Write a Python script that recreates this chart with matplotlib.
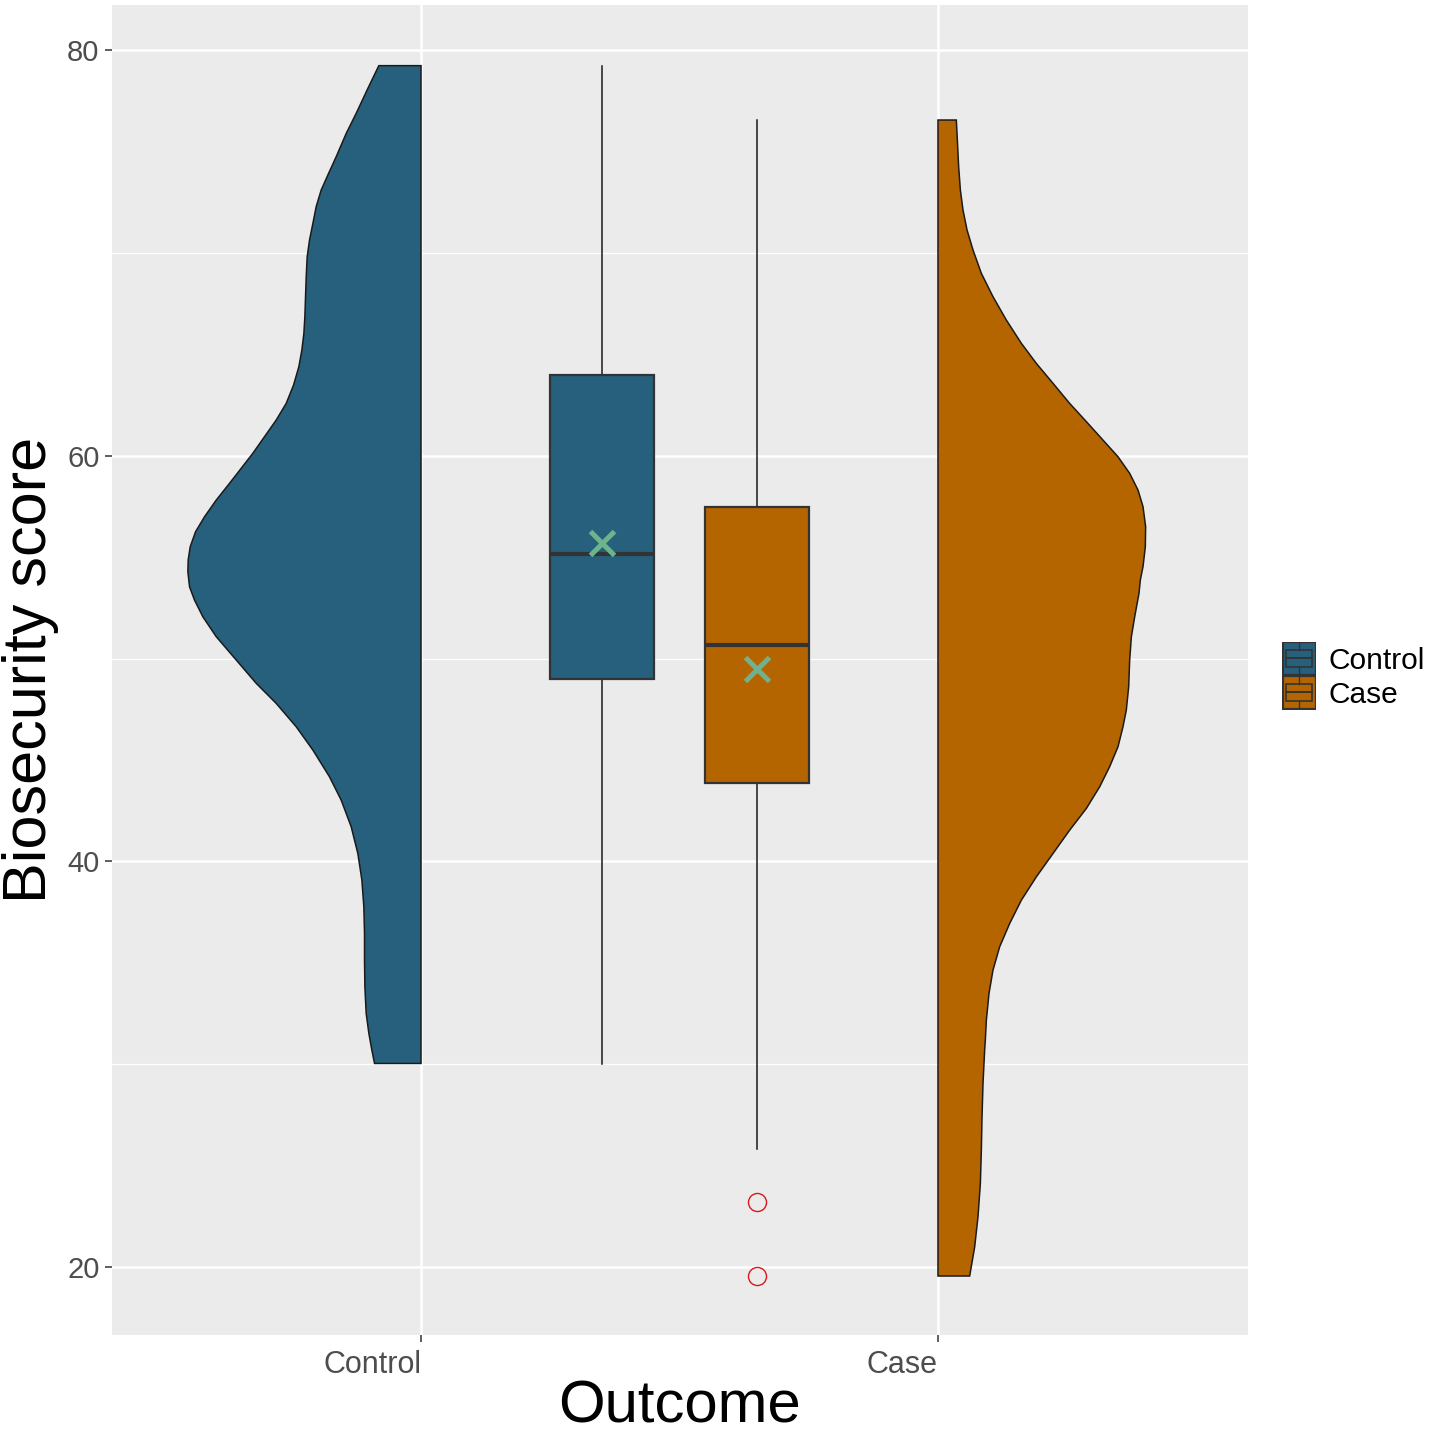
import numpy as np
import matplotlib
matplotlib.use("Agg")
import matplotlib.pyplot as plt
from matplotlib.patches import Rectangle

plt.rcParams['font.family'] = ['Liberation Sans', 'DejaVu Sans']

groups = ["Control", "Case"]
colors = ["#26607D", "#B56500"]

# half violin outlines: score, half width (in x units)
ctrl_score = [79.23, 78.11, 76.88, 75.89, 74.74, 73.84, 73.10, 72.28, 71.45,
              70.63, 69.81, 68.82, 67.84, 66.85, 66.03, 65.21, 64.39, 63.48,
              62.58, 61.76, 60.94, 60.12, 59.38, 58.64, 57.81, 56.99, 56.25,
              55.51, 54.86, 54.28, 53.54, 52.88, 52.06, 51.08, 49.93, 48.78,
              47.79, 46.64, 45.49, 44.17, 43.02, 41.71, 40.39, 39.08, 37.76,
              36.45, 35.14, 33.82, 32.51, 31.52, 30.70, 30.04]
ctrl_width = [0.0816, 0.1028, 0.1254, 0.1447, 0.1641, 0.1802, 0.1931, 0.2028,
              0.2092, 0.2157, 0.2202, 0.2221, 0.2234, 0.2247, 0.2266, 0.2305,
              0.2363, 0.2466, 0.2608, 0.2801, 0.3027, 0.3253, 0.3478, 0.3704,
              0.3962, 0.4188, 0.4362, 0.4465, 0.4504, 0.4510, 0.4478, 0.4381,
              0.4220, 0.3962, 0.3575, 0.3188, 0.2801, 0.2415, 0.2092, 0.1770,
              0.1544, 0.1351, 0.1222, 0.1144, 0.1106, 0.1093, 0.1093, 0.1086,
              0.1061, 0.1009, 0.0951, 0.0899]

case_score = [76.55, 75.56, 74.25, 73.10, 72.11, 71.13, 70.14, 68.99, 67.84,
              66.69, 65.54, 64.55, 63.57, 62.58, 61.68, 60.77, 59.95, 59.13,
              58.31, 57.49, 56.50, 55.51, 54.53, 53.87, 53.21, 52.06, 51.08,
              49.93, 48.61, 47.46, 46.64, 45.65, 44.67, 43.68, 42.61, 41.54,
              40.39, 39.24, 38.09, 36.94, 35.79, 34.64, 33.49, 32.18, 31.19,
              30.70, 29.06, 27.41, 25.77, 24.13, 22.48, 21.00, 19.56]
case_width = [0.0355, 0.0375, 0.0400, 0.0433, 0.0484, 0.0562, 0.0678, 0.0839,
              0.1064, 0.1322, 0.1613, 0.1903, 0.2225, 0.2547, 0.2870, 0.3192,
              0.3482, 0.3708, 0.3869, 0.3966, 0.4017, 0.4011, 0.3966, 0.3914,
              0.3888, 0.3805, 0.3741, 0.3708, 0.3689, 0.3643, 0.3579, 0.3482,
              0.3321, 0.3128, 0.2870, 0.2547, 0.2225, 0.1903, 0.1613, 0.1387,
              0.1193, 0.1064, 0.0987, 0.0936, 0.0916, 0.0903, 0.0871, 0.0852,
              0.0839, 0.0820, 0.0774, 0.0710, 0.0613]

# boxplot summaries
q1 = [49.0, 43.85]
med = [55.17, 50.67]
q3 = [64.0, 57.48]
whis_lo = [30.0, 25.8]
whis_hi = [79.2, 76.55]
means = [55.7, 49.47]
outliers = [[], [23.2, 19.56]]

fig = plt.figure(figsize=(14.29, 14.30), dpi=100)
ax = fig.add_axes([0.0784, 0.0664, 0.7949, 0.9301])
ax.set_facecolor("#EBEBEB")

# violins
cs = np.array(ctrl_score)
cw = np.array(ctrl_width)
ax.fill(np.concatenate([1 - cw, [1, 1]]), np.concatenate([cs, [cs[-1], cs[0]]]),
        facecolor=colors[0], edgecolor="#1a1a1a", linewidth=1.1, zorder=3)
ks = np.array(case_score)
kw = np.array(case_width)
ax.fill(np.concatenate([2 + kw, [2, 2]]), np.concatenate([ks, [ks[-1], ks[0]]]),
        facecolor=colors[1], edgecolor="#1a1a1a", linewidth=1.1, zorder=3)

# boxplots
stats = []
for i in range(2):
    stats.append(dict(med=med[i], q1=q1[i], q3=q3[i], whislo=whis_lo[i],
                      whishi=whis_hi[i], fliers=outliers[i], mean=means[i]))
bp = ax.bxp(stats, positions=[1.35, 1.65], widths=0.2, showcaps=False,
            showmeans=True, patch_artist=True, manage_ticks=False,
            boxprops=dict(edgecolor="#333333", linewidth=1.6),
            medianprops=dict(color="#333333", linewidth=3.0),
            whiskerprops=dict(color="#1a1a1a", linewidth=1.1),
            meanprops=dict(marker="x", markersize=17, markeredgewidth=3.6,
                           markeredgecolor="#6DB38F"),
            flierprops=dict(marker="o", markersize=13, markerfacecolor="none",
                            markeredgecolor="#D7191C", markeredgewidth=1.0))
for patch, c in zip(bp["boxes"], colors):
    patch.set_facecolor(c)
    patch.set_zorder(3)
for key in ["medians", "means", "fliers", "whiskers"]:
    for a in bp[key]:
        a.set_zorder(4 if key != "whiskers" else 2.5)

ax.set_xlim(0.4023, 2.5996)
ax.set_ylim(16.65, 82.22)
ax.set_xticks([1, 2])
ax.set_xticklabels(groups, ha="right")
ax.set_yticks([20, 40, 60, 80])
ax.set_yticks([30, 50, 70], minor=True)
ax.grid(True, which="major", color="white", linewidth=1.8, zorder=0)
ax.grid(True, which="minor", axis="y", color="white", linewidth=0.9, zorder=0)
ax.set_axisbelow(True)
for s in ax.spines.values():
    s.set_visible(False)
ax.tick_params(axis="both", which="major", length=5, width=1.1, color="#333333",
               labelcolor="#4D4D4D", pad=4)
ax.tick_params(axis="x", labelsize=22, pad=6)
ax.tick_params(axis="y", labelsize=21)
ax.tick_params(axis="y", which="minor", length=0)
ax.set_xlabel("Outcome", fontsize=43)
ax.xaxis.set_label_coords(0.5, -0.0335)
ax.set_ylabel("Biosecurity score", fontsize=44, labelpad=6)

# legend drawn by hand with boxplot-style keys
lax = fig.add_axes([1282 / 1429, 1 - 710 / 1430, 34 / 1429, 68 / 1430])
lax.set_xlim(0, 34)
lax.set_ylim(68, 0)
lax.axis("off")
for i, (name, c) in enumerate(zip(groups, colors)):
    y0 = i * 34
    lax.add_patch(Rectangle((0.5, y0 + 0.5), 33, 33, facecolor=c,
                            edgecolor="#333333", linewidth=1.6))
    lax.add_patch(Rectangle((4, y0 + 8), 26, 17, facecolor=c,
                            edgecolor="#333333", linewidth=1.2))
    lax.plot([4, 30], [y0 + 16.5, y0 + 16.5], color="#333333", linewidth=1.4)
    lax.plot([17, 17], [y0 + 1, y0 + 8], color="#333333", linewidth=1.0)
    lax.plot([17, 17], [y0 + 25, y0 + 33], color="#333333", linewidth=1.0)
    fig.text(1328 / 1429, 1 - (661 + i * 34) / 1430, name, fontsize=21.5,
             va="center", ha="left", color="black")

fig.savefig("out.png", dpi=100)
